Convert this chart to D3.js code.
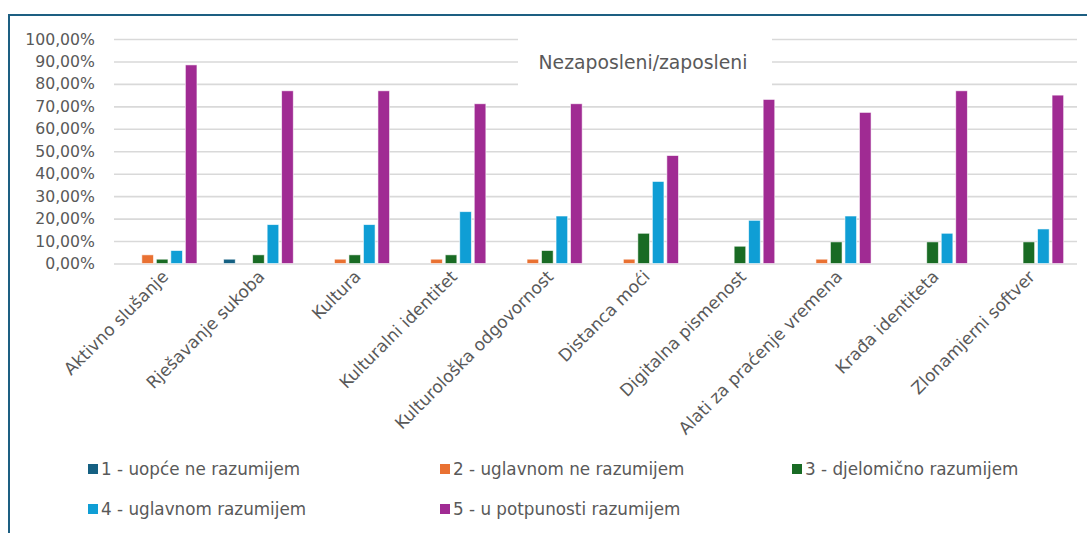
<!DOCTYPE html>
<html>
<head>
<meta charset="utf-8">
<script src="https://cdn.jsdelivr.net/npm/d3@7"></script>
<style>
  html, body { margin: 0; padding: 0; background: #fff; }
  svg { display: block; font-family: "DejaVu Sans", sans-serif; }
</style>
</head>
<body>
<svg id="chart" width="1087" height="533"></svg>
<script>
// ---- data ----
const title = "Nezaposleni/zaposleni";
const categories = ["Aktivno slušanje", "Rješavanje sukoba", "Kultura", "Kulturalni identitet",
  "Kulturološka odgovornost", "Distanca moći", "Digitalna pismenost",
  "Alati za praćenje vremena", "Krađa identiteta", "Zlonamjerni softver"];
const seriesNames = ["1 - uopće ne razumijem", "2 - uglavnom ne razumijem", "3 - djelomično razumijem",
  "4 - uglavnom razumijem", "5 - u potpunosti razumijem"];
const s1 = [0, 1.92, 0, 0, 0, 0, 0, 0, 0, 0];
const s2 = [3.85, 0, 1.92, 1.92, 1.92, 1.92, 0, 1.92, 0, 0];
const s3 = [1.92, 3.85, 3.85, 3.85, 5.77, 13.46, 7.69, 9.62, 9.62, 9.62];
const s4 = [5.77, 17.31, 17.31, 23.08, 21.15, 36.54, 19.23, 21.15, 13.46, 15.38];
const s5 = [88.46, 76.92, 76.92, 71.15, 71.15, 48.08, 73.08, 67.31, 76.92, 75.00];
const yTicks = [0, 10, 20, 30, 40, 50, 60, 70, 80, 90, 100];
const colors = ["#156082", "#E97132", "#196B24", "#0F9ED5", "#A02B93"];

const seriesValues = [s1, s2, s3, s4, s5];

// ---- layout ----
const svg = d3.select("#chart");
const plot = { left: 114, right: 1077, top: 39, bottom: 263.5 };
const textColor = "#595959";

const locale = d3.formatLocale({ decimal: ",", thousands: ".", grouping: [3], currency: ["", "€"] });
const fmt = v => locale.format(".2f")(v) + "%";

const x0 = d3.scaleBand().domain(categories).range([plot.left, plot.right]).paddingInner(0.247).paddingOuter(0.1235);
const x1 = d3.scaleBand().domain(d3.range(seriesNames.length)).range([0, x0.bandwidth()]).paddingInner(0.2).paddingOuter(0.1);
const y = d3.scaleLinear().domain([0, 100]).range([plot.bottom, plot.top]);

// border (top + left)
svg.append("line").attr("x1", 8).attr("x2", 1087).attr("y1", 15).attr("y2", 15)
  .attr("stroke", "#1d5f82").attr("stroke-width", 2);
svg.append("line").attr("x1", 9).attr("x2", 9).attr("y1", 14).attr("y2", 533)
  .attr("stroke", "#1d5f82").attr("stroke-width", 2);

// gridlines
const yAxis = d3.axisLeft(y).tickValues(yTicks).tickFormat(fmt)
  .tickSize(-(plot.right - plot.left)).tickPadding(19);
const gy = svg.append("g").attr("transform", `translate(${plot.left},0)`).call(yAxis);
gy.select(".domain").remove();
gy.selectAll(".tick line").attr("stroke", "#d9d9d9").attr("stroke-width", 1.6);
gy.selectAll(".tick text").attr("fill", textColor).style("font-size", "15.7px")
  .style("font-family", "'DejaVu Sans', sans-serif");

// title with white box
const tb = svg.append("g");
tb.append("rect").attr("x", 518).attr("y", 30).attr("width", 254).attr("height", 64).attr("fill", "#fff");
tb.append("text").attr("x", 643).attr("y", 62).attr("dy", "0.35em").attr("text-anchor", "middle")
  .attr("fill", textColor).style("font-size", "18.8px").text(title);

// bars
const groups = svg.append("g").selectAll("g").data(categories).join("g")
  .attr("transform", d => `translate(${x0(d)},0)`);
groups.selectAll("rect")
  .data((c, ci) => seriesValues.map((vals, si) => ({ si, v: vals[ci] })).filter(d => d.v > 0))
  .join("rect")
  .attr("x", d => x1(d.si))
  .attr("width", x1.bandwidth())
  .attr("y", d => y(d.v))
  .attr("height", d => y(0) - y(d.v))
  .attr("fill", d => colors[d.si])
  .attr("stroke", "#fff").attr("stroke-width", 0.8).attr("stroke-opacity", 0.7);

// x axis labels (rotated)
const gx = svg.append("g");
gx.selectAll("text").data(categories).join("text")
  .attr("transform", d => `translate(${x0(d) + x0.bandwidth() / 2 + 3},${plot.bottom + 10}) rotate(-45)`)
  .attr("text-anchor", "end").attr("dy", "0.35em")
  .attr("fill", textColor).style("font-size", "17px").text(d => d);

// legend
const legendPos = [[88, 469], [440, 469], [792, 469], [88, 509], [440, 509]];
const lg = svg.append("g").selectAll("g").data(seriesNames).join("g")
  .attr("transform", (d, i) => `translate(${legendPos[i][0]},${legendPos[i][1]})`);
lg.append("rect").attr("x", 0).attr("y", -5).attr("width", 10).attr("height", 10)
  .attr("fill", (d, i) => colors[i]);
lg.append("text").attr("x", 13).attr("dy", "0.35em").attr("fill", textColor)
  .style("font-size", "16.8px").text(d => d);
</script>
</body>
</html>
